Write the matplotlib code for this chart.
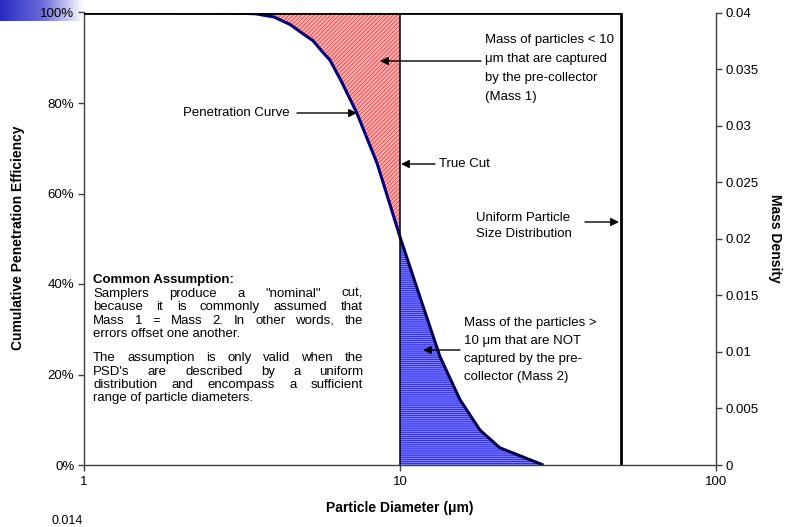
import numpy as np
import matplotlib
matplotlib.use("Agg")
import matplotlib.pyplot as plt

plt.rcParams['font.family'] = ['Liberation Sans', 'DejaVu Sans']
plt.rcParams['hatch.linewidth'] = 0.6

# penetration curve
diameter = [1, 2, 3, 3.5, 4.0, 4.5, 5.0, 5.3, 5.7, 6.0, 6.5, 7.3, 8.46, 9.3, 10, 11.57, 13.39, 15.49, 17.92, 20.7, 28.4]
penetration = [100, 100, 99.9, 99.7, 99.0, 97.3, 95.0, 93.8, 91.2, 89.5, 85.0, 77.8, 66.7, 57.5, 50.4, 37.1, 23.9, 14.4, 7.7, 3.8, 0]
cut_size = 10
psd_range = [1, 50]
psd_density = 0.04

left_ticks = [0, 20, 40, 60, 80, 100]
right_ticks = [0, 0.005, 0.01, 0.015, 0.02, 0.025, 0.03, 0.035, 0.04]
right_labels = ['0', '0.005', '0.01', '0.015', '0.02', '0.025', '0.03', '0.035', '0.04']

W, H = 785, 527
fig = plt.figure(figsize=(W / 100, H / 100), dpi=100)

# powerpoint-ish gradient behind the top-left corner
gax = fig.add_axes([0, 1 - 21 / H, 84 / W, 21 / H], zorder=0)
grad = np.linspace(0, 1, 200)[None, :]
gax.imshow(grad, aspect='auto', cmap=matplotlib.colors.LinearSegmentedColormap.from_list('g', ['#2b2bc4', '#6a6ad8', '#ffffff']),
           extent=[0, 1, 0, 1])
gax.axis('off')

ax = fig.add_axes([84 / W, 1 - 465 / H, (716 - 84) / W, (465 - 12.5) / H], zorder=1)
ax2 = ax.twinx()
ax2.set_zorder(2)
ax2.patch.set_visible(False)

d = np.array(diameter)
p = np.array(penetration)

# Mass 1 (red) and Mass 2 (blue)
m1 = d <= cut_size
ax.fill_between(d[m1], p[m1], 100, facecolor='#f8b0b0', edgecolor='#ee4040', hatch='////////', linewidth=0)
m2 = d >= cut_size
ax.fill_between(d[m2], 0, p[m2], facecolor='#8080ff', edgecolor='#2222e6', hatch='--------', linewidth=0)

ax.plot(d, p, color='#000080', lw=2.2, solid_capstyle='butt')
ax.plot(d[m2], p[m2], color='black', lw=0.8)
ax.plot([cut_size, cut_size], [0, 100], color='black', lw=1.1)

ax2.plot([psd_range[0], psd_range[1], psd_range[1]], [psd_density, psd_density, 0], color='black', lw=2)

ax.set_xscale('log')
ax.set_xlim(1, 100)
ax.set_ylim(0, 100)
ax2.set_ylim(0, 0.04)
ax.set_xticks([1, 10, 100])
ax.set_xticklabels(['1', '10', '100'])
ax.xaxis.set_minor_locator(matplotlib.ticker.NullLocator())
ax.set_yticks(left_ticks)
ax.set_yticklabels([f'{t}%' for t in left_ticks])
ax2.set_yticks(right_ticks)
ax2.set_yticklabels(right_labels)

for a in (ax, ax2):
    for s in a.spines.values():
        s.set_visible(False)
    a.tick_params(labelsize=9.5, length=4, width=1, color='#404040', direction='out', pad=3)
ax.spines['left'].set_visible(True)
ax.spines['bottom'].set_visible(True)
ax2.spines['right'].set_visible(True)
for s in (ax.spines['left'], ax.spines['bottom'], ax2.spines['right']):
    s.set_color('#404040')
    s.set_linewidth(1)
ax.tick_params(axis='x', pad=4)


def fx(x):
    return x / W


def fy(y):
    return 1 - y / H


fs = 9.5
fig.text(fx(400), fy(508), 'Particle Diameter (μm)', ha='center', va='center', fontsize=10, fontweight='bold')
fig.text(fx(18), fy(238), 'Cumulative Penetration Efficiency', ha='center', va='center', rotation=90,
         fontsize=10, fontweight='bold')
fig.text(fx(775), fy(238), 'Mass Density', ha='center', va='center', rotation=270, fontsize=10, fontweight='bold')
fig.text(fx(67), fy(526.5), '0.014', ha='center', va='bottom', fontsize=9)


def arrow(x0, y0, x1, y1):
    ax2.annotate('', xy=(x1, H - y1), xytext=(x0, H - y0), xycoords='figure pixels',
                 textcoords='figure pixels', annotation_clip=False,
                 arrowprops=dict(arrowstyle='-|>', mutation_scale=12, color='black', lw=1,
                                 shrinkA=0, shrinkB=0))


def lines(x, ys, texts, ha='left'):
    for y, t in zip(ys, texts):
        fig.text(fx(x), fy(y), t, ha=ha, va='center', fontsize=fs, zorder=5)


lines(485, [40, 59, 78, 97], ['Mass of particles < 10', 'μm that are captured', 'by the pre-collector', '(Mass 1)'])
arrow(481, 61, 380, 61)

lines(290, [113], ['Penetration Curve'], ha='right')
arrow(297, 113, 357, 113)

lines(439, [164], ['True Cut'])
arrow(435, 164, 401, 164)

lines(476, [218, 234], ['Uniform Particle', 'Size Distribution'])
arrow(585, 222, 619, 222)

lines(464, [323, 341, 359, 377], ['Mass of the particles >', '10 μm that are NOT', 'captured by the pre-', 'collector (Mass 2)'])
arrow(460, 350, 423, 350)

# justified paragraph block
pfs = 9.5
fig.text(fx(93), fy(280), 'Common Assumption:', ha='left', va='center', fontsize=pfs, fontweight='bold')
para = [
    ('Samplers produce a "nominal" cut,', True, 294),
    ('because it is commonly assumed that', True, 307.3),
    ('Mass 1 = Mass 2.  In other words, the', True, 320.6),
    ('errors offset one another.', False, 334),
    ('The assumption is only valid when the', True, 358.3),
    ('PSD\'s are described by a uniform', True, 371.7),
    ('distribution and encompass a sufficient', True, 385),
    ('range of particle diameters.', False, 398.4),
]
renderer = fig.canvas.get_renderer()
x_left, x_right = 93, 363
for text, justify, y in para:
    if not justify:
        fig.text(fx(x_left), fy(y), text, ha='left', va='center', fontsize=pfs)
        continue
    words = text.split()
    arts = [fig.text(0, fy(y), w, ha='left', va='center', fontsize=pfs) for w in words]
    widths = [a.get_window_extent(renderer).width for a in arts]
    gap = (x_right - x_left - sum(widths)) / (len(words) - 1)
    xpos = x_left
    for a, w in zip(arts, widths):
        a.set_x(fx(xpos))
        xpos += w + gap

fig.savefig('out.png', dpi=100)
